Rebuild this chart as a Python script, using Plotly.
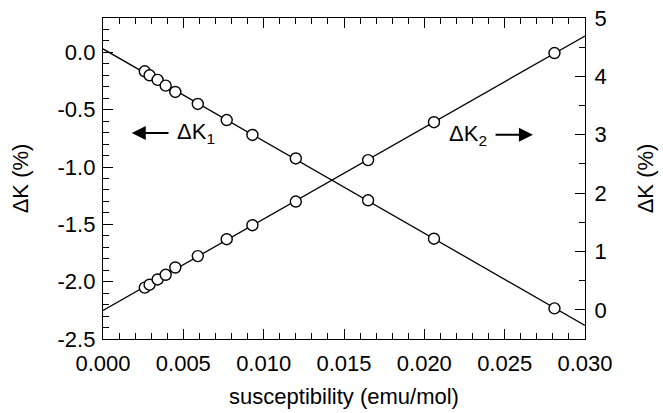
import numpy as np
import plotly.graph_objects as go

# Data
susceptibility = [0.0026, 0.0029, 0.0034, 0.0039, 0.0045, 0.0059, 0.0077, 0.0093, 0.0120, 0.0165, 0.0206, 0.0281]
dK1 = [-0.165, -0.20, -0.24, -0.29, -0.345, -0.45, -0.59, -0.72, -0.925, -1.29, -1.625, -2.233]
dK2 = [0.38, 0.43, 0.52, 0.60, 0.725, 0.92, 1.21, 1.45, 1.855, 2.565, 3.215, 4.40]

x_range = [0.0, 0.030]
y1_range = [-2.5, 0.3]
y2_range = [-0.5, 5.0]

y1_tickvals = [0.0, -0.5, -1.0, -1.5, -2.0, -2.5]
y1_ticktext = ["0.0", "-0.5", "-1.0", "-1.5", "-2.0", "-2.5"]
y2_tickvals = [0, 1, 2, 3, 4, 5]
y2_ticktext = ["0", "1", "2", "3", "4", "5"]

FONT = "Liberation Sans, Arial, sans-serif"
FS = 22

# Linear fits
xs = np.array(x_range)
p1 = np.polyfit(susceptibility, dK1, 1)
p2 = np.polyfit(susceptibility, dK2, 1)

fig = go.Figure()
fig.add_trace(go.Scatter(x=xs, y=np.polyval(p1, xs), mode="lines",
                         line=dict(color="black", width=1.3), yaxis="y", hoverinfo="skip"))
fig.add_trace(go.Scatter(x=xs, y=np.polyval(p2, xs), mode="lines",
                         line=dict(color="black", width=1.3), yaxis="y2", hoverinfo="skip"))
fig.add_trace(go.Scatter(x=susceptibility, y=dK1, mode="markers", yaxis="y",
                         marker=dict(symbol="circle", size=11, color="white",
                                     line=dict(color="black", width=1.4))))
fig.add_trace(go.Scatter(x=susceptibility, y=dK2, mode="markers", yaxis="y2",
                         marker=dict(symbol="circle", size=11, color="white",
                                     line=dict(color="black", width=1.4))))

axis_common = dict(showgrid=False, zeroline=False, showline=True, linecolor="black",
                   linewidth=1.3, ticks="inside", tickcolor="black", tickwidth=1.2,
                   ticklen=10, automargin=False,
                   tickfont=dict(family=FONT, size=FS, color="black"))

fig.update_layout(
    width=663, height=413,
    margin=dict(l=103, r=78, t=18, b=74),
    paper_bgcolor="white", plot_bgcolor="white",
    showlegend=False,
    font=dict(family=FONT, size=FS, color="black"),
    xaxis=dict(range=x_range, dtick=0.005, tick0=0, tickformat=".3f", mirror="ticks",
               ticklabelstandoff=4,
               minor=dict(dtick=0.001, tick0=0, ticks="inside", ticklen=6,
                          tickcolor="black", tickwidth=1.1),
               title=dict(text="susceptibility (emu/mol)", font=dict(family=FONT, size=FS), standoff=14),
               **axis_common),
    yaxis=dict(range=y1_range, tickmode="array", tickvals=y1_tickvals, ticktext=y1_ticktext,
               ticklabelstandoff=2,
               minor=dict(tickmode="linear", dtick=0.1, tick0=0, ticks="inside", ticklen=6,
                          tickcolor="black", tickwidth=1.1),
               title=dict(text="ΔK (%)", font=dict(family=FONT, size=FS), standoff=22),
               **axis_common),
    yaxis2=dict(range=y2_range, overlaying="y", side="right", tickmode="array",
                tickvals=y2_tickvals, ticktext=y2_ticktext, ticklabelstandoff=4,
                minor=dict(tickmode="linear", dtick=0.5, tick0=0, ticks="inside", ticklen=6,
                           tickcolor="black", tickwidth=1.1),
                title=dict(text="ΔK (%)", font=dict(family=FONT, size=FS), standoff=31),
                **axis_common),
)

# Annotations: labels and arrows
fig.add_annotation(x=0.00448, y=-0.70, xref="x", yref="y", text="ΔK<sub>1</sub>",
                   showarrow=False, xanchor="left", yanchor="middle",
                   font=dict(family=FONT, size=FS, color="black"))
fig.add_annotation(x=0.00179, y=-0.703, xref="x", yref="y", ax=0.00417, ay=-0.703,
                   axref="x", ayref="y", text="", showarrow=True, arrowhead=2,
                   arrowsize=1.4, arrowwidth=2, arrowcolor="black")
fig.add_annotation(x=0.02404, y=3.0, xref="x", yref="y2", text="ΔK<sub>2</sub>",
                   showarrow=False, xanchor="right", yanchor="middle",
                   font=dict(family=FONT, size=FS, color="black"))
fig.add_annotation(x=0.02676, y=3.0, xref="x", yref="y2", ax=0.02434, ay=3.0,
                   axref="x", ayref="y2", text="", showarrow=True, arrowhead=2,
                   arrowsize=1.4, arrowwidth=2, arrowcolor="black")

fig.write_html("out.html")
